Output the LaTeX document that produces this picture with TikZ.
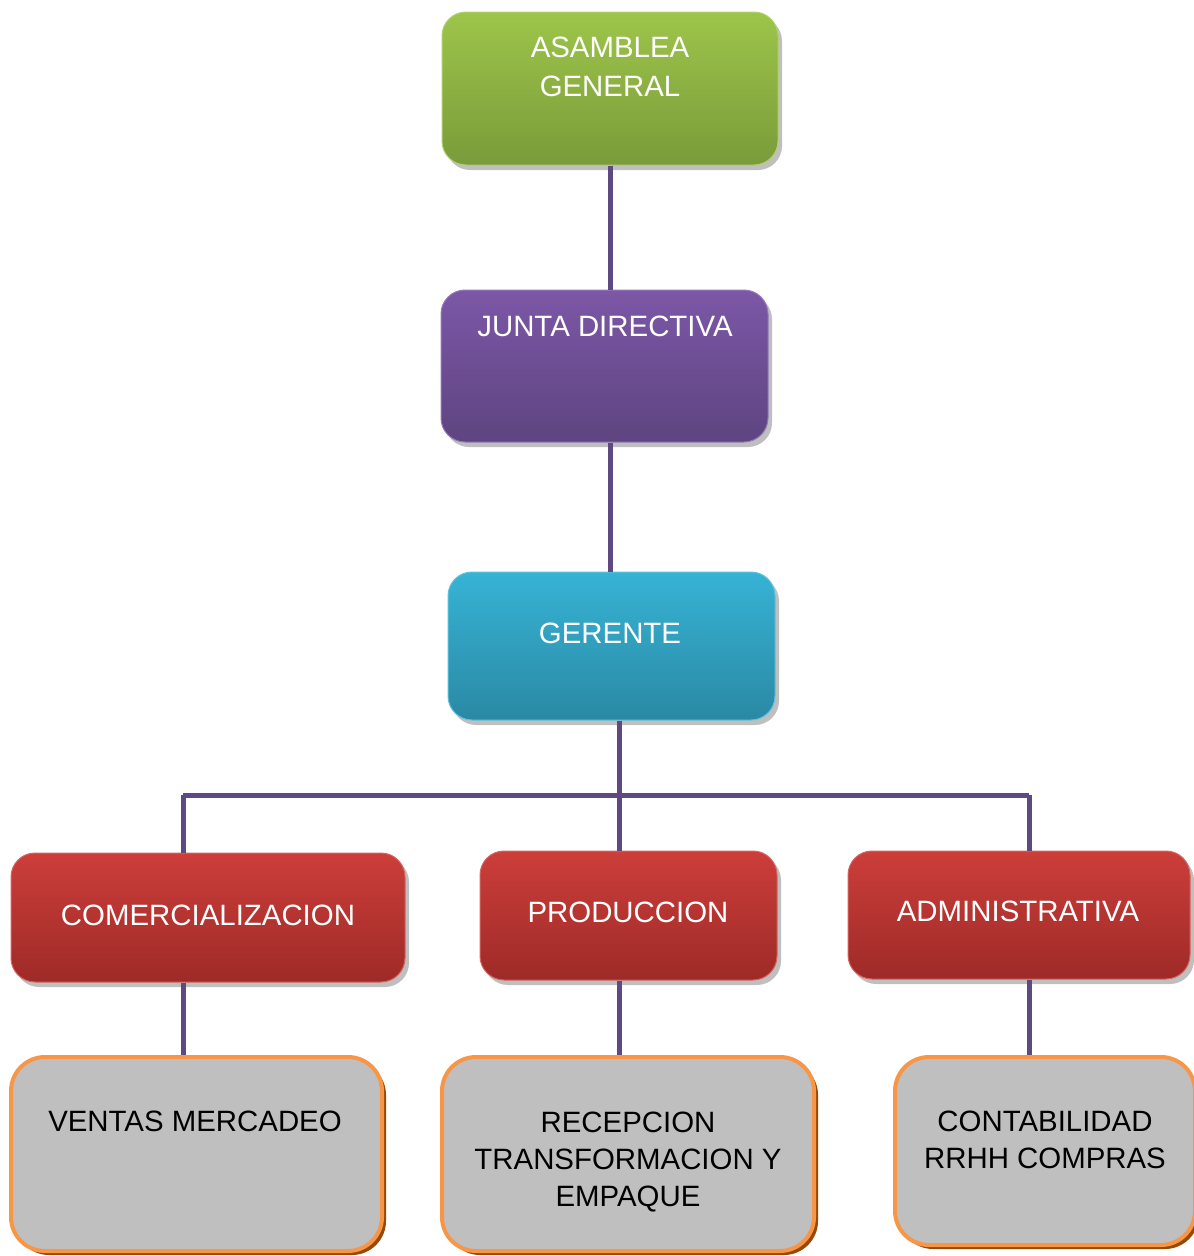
\documentclass[tikz,border=0pt]{standalone}
\usepackage{fontspec}
\setmainfont{Liberation Sans}
\usetikzlibrary{shadows}
\definecolor{grT}{HTML}{9DC54A}\definecolor{grB}{HTML}{7A9B3A}
\definecolor{puT}{HTML}{7C57A7}\definecolor{puB}{HTML}{5E4480}
\definecolor{cyT}{HTML}{37B3D5}\definecolor{cyB}{HTML}{2A89A4}
\definecolor{rdT}{HTML}{CC3E3A}\definecolor{rdB}{HTML}{9E2A27}
\definecolor{linec}{HTML}{5E4A80}
\definecolor{boxgray}{HTML}{BFBFBF}
\definecolor{boxor}{HTML}{F79646}
\definecolor{boxsh}{HTML}{984807}
\tikzset{
  topbox/.style={rectangle, rounded corners=24pt, inner sep=0pt, draw=#1T!80!white, line width=1pt,
    top color=#1T, bottom color=#1B,
    drop shadow={shadow xshift=4pt, shadow yshift=-5pt, opacity=0.25, fill=black}},
  botbox/.style={rectangle, rounded corners=34pt, inner sep=0pt, draw=boxor, line width=4pt, fill=boxgray,
    drop shadow={shadow xshift=4pt, shadow yshift=-4pt, opacity=1, fill=boxsh}},
  wtxt/.style={text=white, font=\fontsize{29.4}{39}\selectfont, align=center, inner sep=0pt},
  btxt/.style={text=black, font=\fontsize{29.4}{37}\selectfont, align=center, inner sep=0pt},
  conn/.style={draw=linec, line width=5pt}
}
\begin{document}
\begin{tikzpicture}[x=1pt,y=-1pt]
\useasboundingbox[fill=white] (0,0) rectangle (1194,1256);
% boxes (pixel coordinates, y downward)
\node[topbox=gr, minimum width=336pt, minimum height=153pt] (asm) at (610,88.5) {};
\node[topbox=pu, minimum width=327pt, minimum height=152pt] (junta) at (604.5,366) {};
\node[topbox=cy, minimum width=327pt, minimum height=148pt] (ger) at (611.5,646) {};
\node[topbox=rd, minimum width=394pt, minimum height=129pt] (com) at (208,917.5) {};
\node[topbox=rd, minimum width=297pt, minimum height=129pt] (prod) at (628.5,915.5) {};
\node[topbox=rd, minimum width=342pt, minimum height=128pt] (adm) at (1019,915) {};
\node[botbox, minimum width=371pt, minimum height=194pt] (ven) at (196.5,1154) {};
\node[botbox, minimum width=372pt, minimum height=194pt] (rec) at (628,1154) {};
\node[botbox, minimum width=300pt, minimum height=188pt] (cont) at (1045,1151) {};
% texts
\node[wtxt] (tasm) at (610,67) {ASAMBLEA\\GENERAL};
\node[wtxt] (tjunta) at (605,326.5) {JUNTA DIRECTIVA};
\node[wtxt] (tger) at (610,633.5) {GERENTE};
\node[wtxt] (tcom) at (208,915.5) {COMERCIALIZACION};
\node[wtxt] (tprod) at (628,912.5) {PRODUCCION};
\node[wtxt] (tadm) at (1018,911.5) {ADMINISTRATIVA};
\node[btxt] (tven) at (195,1121.5) {VENTAS MERCADEO};
\node[btxt] (trec) at (628,1161.5) {RECEPCION\\TRANSFORMACION Y\\EMPAQUE};
\node[btxt] (tcont) at (1045,1139.5) {CONTABILIDAD\\RRHH COMPRAS};
% connector coordinates
\coordinate (c1) at (610,0);
\coordinate (bus) at (619,795);
\coordinate (bl) at (183,795);
\coordinate (br) at (1029,795);
% connectors
\draw[conn] (asm.south -| c1) -- (junta.north -| c1);
\draw[conn] (junta.south -| c1) -- (ger.north -| c1);
\draw[conn] (ger.south -| bus) -- (prod.north -| bus);
\draw[conn] (bl) -- (br);
\draw[conn] (bl) -- (com.north -| bl);
\draw[conn] (br) -- (adm.north -| br);
\draw[conn] (com.south -| bl) -- (ven.north -| bl);
\draw[conn] (prod.south -| bus) -- (rec.north -| bus);
\draw[conn] (adm.south -| br) -- (cont.north -| br);
\end{tikzpicture}
\end{document}
